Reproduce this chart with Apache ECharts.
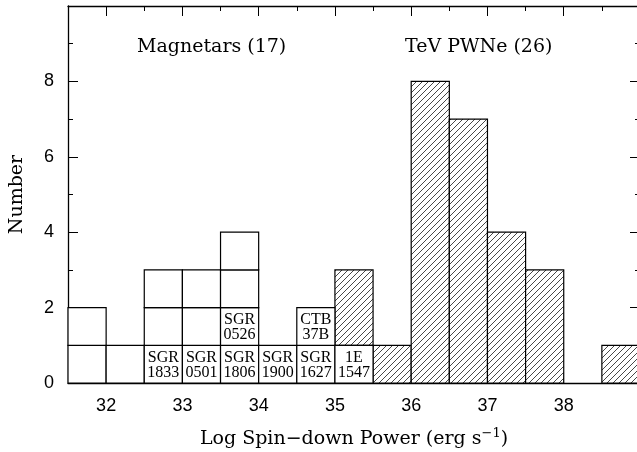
<!DOCTYPE html>
<html>
<head>
<meta charset="utf-8">
<script src="https://cdn.jsdelivr.net/npm/echarts@6/dist/echarts.min.js"></script>
<style>
html,body{margin:0;padding:0;background:#fff;}
#chart{width:637px;height:452px;}
</style>
</head>
<body>
<div id="chart"></div>
<script>
// ---- data ----
const binWidth = 0.5;
const magBins = [31.5, 32.0, 32.5, 33.0, 33.5, 34.0, 34.5, 35.0];
const magCounts = [2, 1, 3, 3, 4, 1, 2, 1];
const magLabelsRow1 = ['', '', 'SGR\n1833', 'SGR\n0501', 'SGR\n1806', 'SGR\n1900', 'SGR\n1627', '1E\n1547'];
const magLabelsRow2 = ['', '', '', '', 'SGR\n0526', '', 'CTB\n37B', ''];
const pwnBins = [35.0, 35.5, 36.0, 36.5, 37.0, 37.5, 38.0, 38.5];
const pwnCounts = [2, 1, 8, 7, 4, 3, 0, 1];
const xTickLabels = [32, 33, 34, 35, 36, 37, 38];
const xMinorTicks = [31.5, 32.5, 33.5, 34.5, 35.5, 36.5, 37.5, 38.5];
const annotations = ['Magnetars (17)', 'TeV PWNe (26)'];

// ---- build rectangles ----
const magBoxes = [];   // [x0, x1, y0, y1]
const magBoxLabels = [];
magBins.forEach((b, i) => {
  for (let k = 0; k < magCounts[i]; k++) {
    magBoxes.push([b, b + binWidth, k, k + 1]);
    magBoxLabels.push(k === 0 ? magLabelsRow1[i] : (k === 1 ? magLabelsRow2[i] : ''));
  }
});
const pwnRects = [];
pwnBins.forEach((b, i) => {
  if (pwnCounts[i] <= 0) return;
  const mi = magBins.indexOf(b);
  const base = mi >= 0 ? magCounts[mi] : 0;
  pwnRects.push([b, b + binWidth, base, base + pwnCounts[i]]);
});

// ---- hatch pattern ----
const hatch = document.createElement('canvas');
const P = 6;
hatch.width = P; hatch.height = P;
(function () {
  const c = hatch.getContext('2d');
  c.fillStyle = '#fff'; c.fillRect(0, 0, P, P);
  c.strokeStyle = '#333'; c.lineWidth = 0.9;
  c.beginPath();
  c.moveTo(-1, P + 1); c.lineTo(P + 1, -1);
  c.moveTo(-1, 1); c.lineTo(1, -1);
  c.moveTo(P - 1, P + 1); c.lineTo(P + 1, P - 1);
  c.stroke();
})();

function rectItem(api) {
  const p0 = api.coord([api.value(0), api.value(2)]);
  const p1 = api.coord([api.value(1), api.value(3)]);
  return {x: p0[0], y: p1[1], w: p1[0] - p0[0], h: p0[1] - p1[1]};
}

const serif = '"DejaVu Serif", "Liberation Serif", serif';
const sans = '"Liberation Sans", Arial, sans-serif';

const chart = echarts.init(document.getElementById('chart'), null, {renderer: 'canvas'});

const axisLineStyle = {color: '#000', width: 1.3};
const baseX = {
  type: 'value', min: 31.5, max: 39, gridIndex: 0,
  splitLine: {show: false}
};

const option = {
  animation: false,
  backgroundColor: '#fff',
  grid: {left: 68, right: -3, top: 6, bottom: 69, containLabel: false, outerBoundsMode: 'none'},
  xAxis: [
    Object.assign({}, baseX, {
      position: 'bottom',
      axisLine: {show: true, lineStyle: axisLineStyle},
      axisTick: {show: true, inside: true, length: 10, lineStyle: {color: '#000'}, customValues: xTickLabels},
      axisLabel: {show: true, margin: 14, color: '#000', fontFamily: sans, fontSize: 18, customValues: xTickLabels},
      name: '{n|Log Spin\u2212down Power (erg s}{s|\u22121}{n|)}',
      nameLocation: 'middle', nameGap: 44,
      nameTextStyle: {rich: {
        n: {fontFamily: serif, fontSize: 19, color: '#000', verticalAlign: 'bottom', lineHeight: 22},
        s: {fontFamily: serif, fontSize: 13, color: '#000', verticalAlign: 'top', lineHeight: 22, padding: [0, 0, 12, 0]}
      }}
    }),
    Object.assign({}, baseX, {
      position: 'bottom',
      axisLine: {show: false},
      axisTick: {show: true, inside: true, length: 5, lineStyle: {color: '#000'}, customValues: xMinorTicks},
      axisLabel: {show: false}
    }),
    Object.assign({}, baseX, {
      position: 'top',
      axisLine: {show: true, lineStyle: axisLineStyle},
      axisTick: {show: true, inside: true, length: 10, lineStyle: {color: '#000'}, customValues: xTickLabels},
      axisLabel: {show: false}
    }),
    Object.assign({}, baseX, {
      position: 'top',
      axisLine: {show: false},
      axisTick: {show: true, inside: true, length: 5, lineStyle: {color: '#000'}, customValues: xMinorTicks},
      axisLabel: {show: false}
    })
  ],
  yAxis: [
    {
      type: 'value', min: 0, max: 10, interval: 2, position: 'left',
      axisLine: {show: true, lineStyle: axisLineStyle},
      axisTick: {show: true, inside: true, length: 10, lineStyle: {color: '#000'}},
      minorTick: {show: true, splitNumber: 2, length: 5, lineStyle: {color: '#000'}},
      axisLabel: {show: true, margin: 14, color: '#000', fontFamily: sans, fontSize: 18,
        formatter: v => (v >= 10 ? '' : String(v))},
      splitLine: {show: false},
      name: 'Number', nameLocation: 'middle', nameGap: 41, nameRotate: 90,
      nameTextStyle: {fontFamily: serif, fontSize: 19, color: '#000'}
    },
    {
      type: 'value', min: 0, max: 10, interval: 2, position: 'right',
      axisLine: {show: true, lineStyle: axisLineStyle},
      axisTick: {show: true, inside: true, length: 10, lineStyle: {color: '#000'}},
      minorTick: {show: true, splitNumber: 2, length: 5, lineStyle: {color: '#000'}},
      axisLabel: {show: false},
      splitLine: {show: false}
    }
  ],
  graphic: [
    {type: 'text', left: 137, top: 38, z: 10,
      style: {text: annotations[0], font: '19px ' + serif, fill: '#000'}},
    {type: 'text', left: 405, top: 38, z: 10,
      style: {text: annotations[1], font: '19px ' + serif, fill: '#000'}}
  ],
  series: [
    {
      type: 'custom', name: 'PWNe', xAxisIndex: 0, yAxisIndex: 0,
      data: pwnRects, encode: {x: [0, 1], y: [2, 3]}, z: 2,
      renderItem: function (params, api) {
        const r = rectItem(api);
        return {
          type: 'rect',
          shape: {x: r.x, y: r.y, width: r.w, height: r.h},
          style: {fill: {image: hatch, repeat: 'repeat'}, stroke: '#000', lineWidth: 1.2}
        };
      }
    },
    {
      type: 'custom', name: 'Magnetars', xAxisIndex: 0, yAxisIndex: 0,
      data: magBoxes, encode: {x: [0, 1], y: [2, 3]}, z: 3,
      renderItem: function (params, api) {
        const r = rectItem(api);
        const lbl = magBoxLabels[params.dataIndex];
        const children = [{
          type: 'rect',
          shape: {x: r.x, y: r.y, width: r.w, height: r.h},
          style: {fill: '#fff', stroke: '#000', lineWidth: 1.2}
        }];
        if (lbl) {
          children.push({
            type: 'text',
            x: r.x + r.w / 2, y: r.y + r.h / 2 + 1,
            style: {text: lbl, fill: '#000', font: '16px "Liberation Serif", serif',
              align: 'center', verticalAlign: 'middle', lineHeight: 15}
          });
        }
        return {type: 'group', children: children};
      }
    }
  ]
};
chart.setOption(option);
</script>
</body>
</html>
